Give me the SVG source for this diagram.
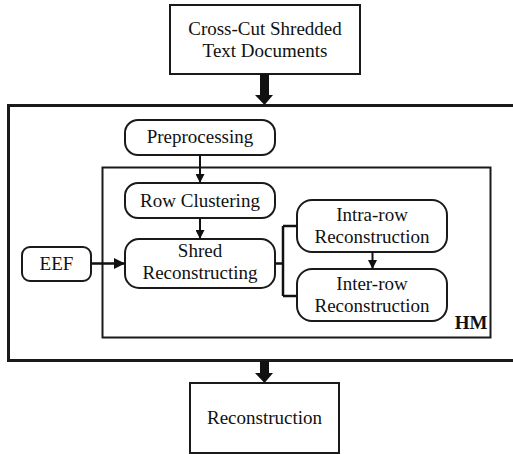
<svg xmlns="http://www.w3.org/2000/svg" width="513" height="454" viewBox="0 0 513 454">
<style>
text{font-size:19px;fill:#111;text-anchor:middle}
.box{fill:#fff;stroke:#1a1a1a;stroke-width:2}
.rbox{fill:#fff;stroke:#1a1a1a;stroke-width:2}
.line{fill:none;stroke:#111;stroke-width:2.5}
.thin{fill:none;stroke:#111;stroke-width:2}
</style>
<defs>
<marker id="ah" viewBox="0 0 10 10" refX="10" refY="5" markerWidth="4.5" markerHeight="4.5" orient="auto" markerUnits="strokeWidth">
<path d="M0,0 L10,5 L0,10 z" fill="#111"/>
</marker>
</defs>
<rect width="513" height="454" fill="#fff"/>
<g font-family="Liberation Serif, Times New Roman, serif">
<g id="outer">
<rect x="8.5" y="105.5" width="507" height="255" fill="none" stroke="#1a1a1a" stroke-width="3"/>
</g>
<g id="hm">
<rect x="102.5" y="167.5" width="388" height="170" fill="none" stroke="#1a1a1a" stroke-width="2"/>
<text x="471" y="329" font-weight="bold">HM</text>
</g>
<g id="input">
<rect class="box" x="170" y="5" width="190" height="69"/>
<text x="265" y="35">Cross-Cut Shredded</text>
<text x="265" y="57">Text Documents</text>
</g>
<g id="preprocessing">
<rect class="rbox" x="125" y="120" width="150" height="35" rx="13"/>
<text x="200" y="143">Preprocessing</text>
</g>
<g id="rowclustering">
<rect class="rbox" x="125" y="183" width="150" height="35" rx="13"/>
<text x="200" y="207">Row Clustering</text>
</g>
<g id="shred">
<rect class="rbox" x="125" y="239" width="150" height="49" rx="14"/>
<text x="200" y="257">Shred</text>
<text x="200" y="279">Reconstructing</text>
</g>
<g id="eef">
<rect class="rbox" x="22" y="247" width="69" height="34" rx="8"/>
<text x="56.5" y="270">EEF</text>
</g>
<g id="intra">
<rect class="rbox" x="297" y="200" width="150" height="52" rx="15"/>
<text x="372" y="221">Intra-row</text>
<text x="372" y="243">Reconstruction</text>
</g>
<g id="inter">
<rect class="rbox" x="297" y="269" width="150" height="52" rx="15"/>
<text x="372" y="290">Inter-row</text>
<text x="372" y="312">Reconstruction</text>
</g>
<g id="output">
<rect class="box" x="190" y="383" width="149" height="70"/>
<text x="264.5" y="424">Reconstruction</text>
</g>
</g>
<g id="connectors">
<path d="M260,74 H269 V95 H273 L264.5,105 L255,95 H260 Z" fill="#111"/>
<path d="M260,361 H269 V373 H273 L264.5,383 L255,373 H260 Z" fill="#111"/>
<line class="thin" x1="200" y1="155" x2="200" y2="183" marker-end="url(#ah)"/>
<line class="thin" x1="200" y1="218" x2="200" y2="239" marker-end="url(#ah)"/>
<line class="line" x1="91" y1="263.5" x2="125" y2="263.5" marker-end="url(#ah)"/>
<line class="thin" x1="372.5" y1="252" x2="372.5" y2="269" marker-end="url(#ah)"/>
<path class="line" d="M275,263.5 H283 M283,226 V296 M283,226 H297 M283,296 H297"/>
</g>
</svg>
